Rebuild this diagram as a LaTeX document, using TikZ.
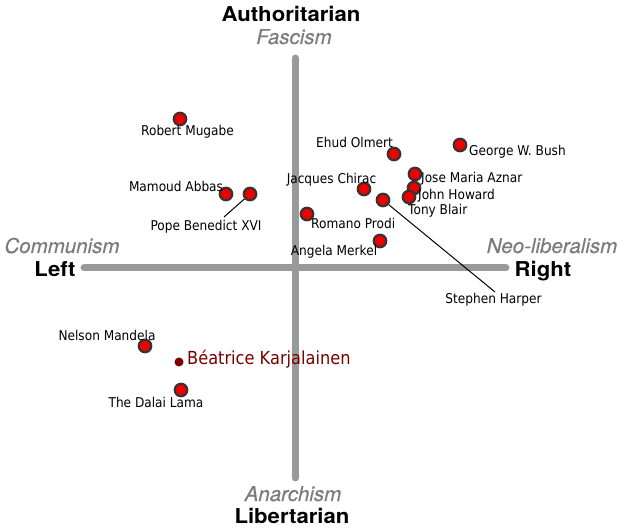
\documentclass[tikz,border=0pt]{standalone}
\usepackage{fontspec}
\newfontfamily\labfont{DejaVu Sans}[FakeStretch=0.9]
\newfontfamily\polefont{TeX Gyre Heros}[FakeStretch=1.08]
\newfontfamily\ideofont{TeX Gyre Heros}[FakeBold=0.4]
\definecolor{axisgray}{HTML}{9A9A9A}
\definecolor{ideogray}{HTML}{7C7C7C}
\definecolor{dotred}{HTML}{EE0000}
\definecolor{ringgray}{HTML}{3C3030}
\definecolor{bkred}{HTML}{7A0000}
\begin{document}
\begin{tikzpicture}[x=1pt,y=-1pt,
  bar/.style={line width=7pt,axisgray,line cap=round},
  dot/.style={circle,fill=dotred,draw=ringgray,line width=2.2pt,minimum size=12.5pt,inner sep=0pt},
  bdot/.style={circle,fill=bkred,minimum size=9pt,inner sep=0pt},
  pname/.style={font=\labfont\fontsize{13.5}{14}\selectfont,inner sep=0pt,anchor=base},
  lname/.style={pname,anchor=base west},
  pole/.style={font=\polefont\bfseries\fontsize{20.5}{22}\selectfont,inner sep=0pt,anchor=base},
  ideo/.style={font=\ideofont\itshape\fontsize{20.5}{22}\selectfont,text=ideogray,inner sep=0pt,anchor=base},
  leader/.style={line width=1pt,black}]
\useasboundingbox (0,0) rectangle (624,529);
% axes
\coordinate (vtop) at (295,58);
\coordinate (vbot) at (295,478);
\coordinate (hl) at (84,268);
\coordinate (hr) at (506,268);
\draw[bar] (vtop) -- (vbot);
\draw[bar] (hl) -- (hr);
% poles
\node[pole] (auth) at (291,22) {Authoritarian};
\node[ideo] (fasc) at (294,44) {Fascism};
\node[ideo] (comm) at (62,253) {Communism};
\node[pole] (left) at (55,277) {Left};
\node[ideo] (neo) at (552,253) {Neo-liberalism};
\node[pole] (right) at (543,277) {Right};
\node[ideo] (anar) at (293,501) {Anarchism};
\node[pole] (lib) at (292,523) {Libertarian};
% dots
\node[dot] (mugabe) at (180,119) {};
\node[dot] (abbas) at (226,194) {};
\node[dot] (pope) at (250,194) {};
\node[dot] (olmert) at (394,154) {};
\node[dot] (bush) at (460,145) {};
\node[dot] (aznar) at (415,174) {};
\node[dot] (howard) at (414,188) {};
\node[dot] (blair) at (409,197) {};
\node[dot] (chirac) at (364,189) {};
\node[dot] (harper) at (383,200) {};
\node[dot] (prodi) at (307,214) {};
\node[dot] (merkel) at (380,241) {};
\node[dot] (mandela) at (145,346) {};
\node[dot] (dalai) at (181,390) {};
\node[bdot] (beat) at (179,362) {};
% labels
\node[pname] (lmugabe) at (187.5,135.5) {Robert Mugabe};
\node[pname] (labbas) at (176,191.5) {Mamoud Abbas};
\node[pname] (lpope) at (206,230.5) {Pope Benedict XVI};
\node[pname] (lolmert) at (354.5,147.5) {Ehud Olmert};
\node[lname] (lbush) at (469,155.5) {George W. Bush};
\node[lname] (laznar) at (421,182.5) {Jose Maria Aznar};
\node[lname] (lhoward) at (418,199.5) {John Howard};
\node[lname] (lblair) at (408,214.5) {Tony Blair};
\node[pname] (lchirac) at (331.5,183.5) {Jacques Chirac};
\node[lname] (lprodi) at (311,228.5) {Romano Prodi};
\node[pname] (lmerkel) at (334,255.5) {Angela Merkel};
\node[pname] (lharper) at (493.5,303.5) {Stephen Harper};
\node[pname] (lmandela) at (107,340.5) {Nelson Mandela};
\node[pname] (ldalai) at (156,407.5) {The Dalai Lama};
\node[lname,font=\labfont\fontsize{18}{19}\selectfont,text=bkred] (lbeat) at (187,365) {Béatrice Karjalainen};
% leaders
\coordinate (popeend) at (224,217);
\coordinate (harperend) at (495,292);
\draw[leader] (pope) -- (popeend);
\draw[leader] (harper) -- (harperend);
\end{tikzpicture}
\end{document}
